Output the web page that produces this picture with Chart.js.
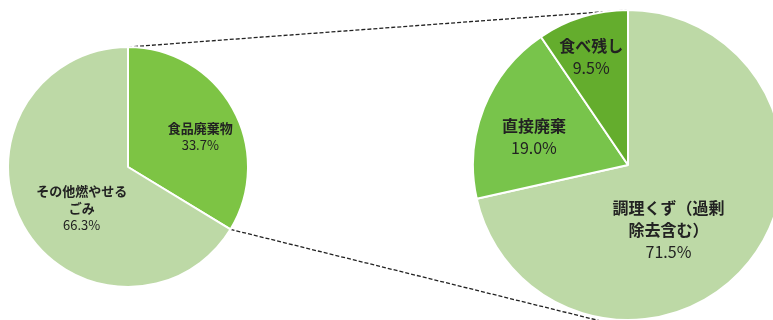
<!DOCTYPE html>
<html>
<head>
<meta charset="utf-8">
<script src="https://cdn.jsdelivr.net/npm/chart.js@4"></script>
<style>
  html, body { margin: 0; padding: 0; background: #fff; overflow: hidden; }
  #wrap { position: relative; width: 773px; height: 320px; overflow: hidden; }
  #wrap canvas { position: absolute; }
</style>
</head>
<body>
<div id="wrap">
  <canvas id="lines" width="773" height="320" style="left:0;top:0"></canvas>
  <canvas id="leftPie" width="242" height="242" style="left:7px;top:46px"></canvas>
  <canvas id="rightPie" width="312" height="312" style="left:472px;top:9px"></canvas>
</div>
<script>
// 燃やせるごみの内訳
var wasteLabels = ['食品廃棄物', 'その他燃やせる\nごみ'];
var wasteValues = [33.7, 66.3];

// 食品廃棄物の内訳
var foodLabels = ['調理くず（過剰\n除去含む）', '直接廃棄', '食べ残し'];
var foodValues = [71.5, 19.0, 9.5];

var wasteColors = ['#7dc444', '#bdd9a6'];
var foodColors = ['#bdd9a6', '#78c44b', '#64ad2d'];

// label nudges (px) from each slice's mid point
var wasteNudge = [[20, -1], [6, 12]];
var foodNudge = [[-20, 16], [-22, 0], [-14, -34]];

var sliceLabels = {
  id: 'sliceLabels',
  afterDatasetsDraw: function(chart, args, opts) {
    var ctx = chart.ctx;
    var meta = chart.getDatasetMeta(0);
    var ds = chart.data.datasets[0];
    ctx.save();
    ctx.fillStyle = '#222';
    ctx.textAlign = 'center';
    ctx.textBaseline = 'middle';
    meta.data.forEach(function(arc, i) {
      var p = arc.tooltipPosition();
      var x = p.x + opts.nudge[i][0];
      var y = p.y + opts.nudge[i][1];
      var lines = chart.data.labels[i].split('\n');
      var total = lines.length + 1;
      var top = y - (total - 1) * opts.lineHeight / 2;
      ctx.font = 'bold ' + opts.size + 'px "Noto Sans CJK JP"';
      lines.forEach(function(t, k) {
        ctx.fillText(t, x, top + k * opts.lineHeight);
      });
      ctx.font = opts.size + 'px "Noto Sans CJK JP"';
      ctx.fillText(ds.data[i].toFixed(1) + '%', x, top + lines.length * opts.lineHeight);
    });
    ctx.restore();
  }
};

function makePie(id, labels, values, colors, size, lineHeight, nudge) {
  var ctx = document.getElementById(id).getContext('2d');
  return new Chart(ctx, {
    type: 'pie',
    data: {
      labels: labels,
      datasets: [{
        data: values,
        backgroundColor: colors,
        borderColor: '#fff',
        borderWidth: 2
      }]
    },
    options: {
      responsive: false,
      animation: false,
      layout: { padding: 0 },
      plugins: {
        legend: { display: false },
        tooltip: { enabled: false },
        sliceLabels: { size: size, lineHeight: lineHeight, nudge: nudge }
      }
    },
    plugins: [sliceLabels]
  });
}

var leftChart = makePie('leftPie', wasteLabels, wasteValues, wasteColors, 13, 17, wasteNudge);
var rightChart = makePie('rightPie', foodLabels, foodValues, foodColors, 16, 22, foodNudge);

// dashed lines joining the food slice to the breakdown pie
function drawLinks() {
  var lc = document.getElementById('leftPie');
  var rc = document.getElementById('rightPie');
  var la = leftChart.getDatasetMeta(0).data[0];
  var ra = rightChart.getDatasetMeta(0).data[0];
  var lx = lc.offsetLeft + la.x, ly = lc.offsetTop + la.y, lr = la.outerRadius;
  var rx = rc.offsetLeft + ra.x, ry = rc.offsetTop + ra.y, rr = ra.outerRadius;

  var ctx = document.getElementById('lines').getContext('2d');
  ctx.strokeStyle = '#222';
  ctx.lineWidth = 1.3;
  ctx.setLineDash([4, 2]);

  ctx.beginPath();
  ctx.moveTo(lx + lr * Math.cos(la.startAngle), ly + lr * Math.sin(la.startAngle));
  ctx.lineTo(rx, ry - rr);
  ctx.stroke();

  ctx.beginPath();
  ctx.moveTo(lx + lr * Math.cos(la.endAngle), ly + lr * Math.sin(la.endAngle));
  ctx.lineTo(rx, ry + rr * 1.05);
  ctx.stroke();
}
drawLinks();
</script>
</body>
</html>
